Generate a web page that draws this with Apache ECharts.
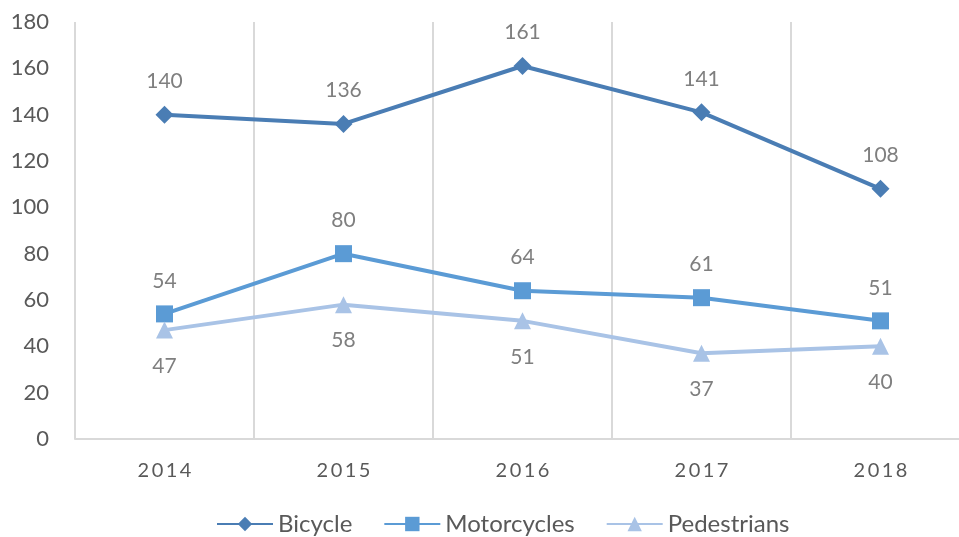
<!DOCTYPE html>
<html>
<head>
<meta charset="utf-8">
<script src="https://cdn.jsdelivr.net/npm/echarts@6/dist/echarts.min.js"></script>
<style>html,body{margin:0;padding:0;background:#fff;overflow:hidden;width:959px;height:537px;}#c{width:970px;height:537px;}</style>
</head>
<body>
<div id="c"></div>
<script>
const years = ['2014', '2015', '2016', '2017', '2018'];
const bicycle = [140, 136, 161, 141, 108];
const motorcycles = [54, 80, 64, 61, 51];
const pedestrians = [47, 58, 51, 37, 40];
const yTicks = { min: 0, max: 180, interval: 20 };

const font = 'Lato, "Open Sans", sans-serif';
const chart = echarts.init(document.getElementById('c'));
function ser(name, data, color, symbol, size, pos, dist) {
  return {
    name, type: 'line', data, symbol, symbolSize: size,
    lineStyle: { color, width: 4 },
    itemStyle: { color },
    label: { show: true, position: pos, distance: dist, color: '#7f7f7f', fontSize: 21, fontFamily: font },
    z: 3
  };
}
chart.setOption({
  animation: false,
  textStyle: { fontFamily: font },
  grid: { left: 75, right: 0, top: 22, bottom: 98 },
  legend: {
    left: 211, top: 507, itemWidth: 56, itemHeight: 18, itemGap: 31,
    textStyle: { color: '#595959', fontSize: 24, fontFamily: font },
    data: ['Bicycle', 'Motorcycles', 'Pedestrians']
  },
  xAxis: {
    type: 'category', data: years, boundaryGap: true,
    axisLine: { lineStyle: { color: '#d9d9d9', width: 2 } },
    axisTick: { show: false },
    splitLine: { show: true, lineStyle: { color: '#d9d9d9', width: 2 } },
    axisLabel: { color: '#595959', fontSize: 20, margin: 22, fontFamily: font,
      formatter: v => v.split('').join('\u2009') }
  },
  yAxis: {
    type: 'value', min: yTicks.min, max: yTicks.max, interval: yTicks.interval,
    axisLine: { show: false }, axisTick: { show: false },
    splitLine: { show: false },
    axisLabel: { color: '#595959', fontSize: 22, margin: 26, fontFamily: font }
  },
  series: [
    ser('Bicycle', bicycle, '#4a7db4', 'diamond', 18, 'top', 14),
    ser('Motorcycles', motorcycles, '#5b9bd5', 'rect', 17, 'top', 14),
    ser('Pedestrians', pedestrians, '#a9c3e6', 'triangle', 17, 'bottom', 17)
  ]
});
</script>
</body>
</html>
